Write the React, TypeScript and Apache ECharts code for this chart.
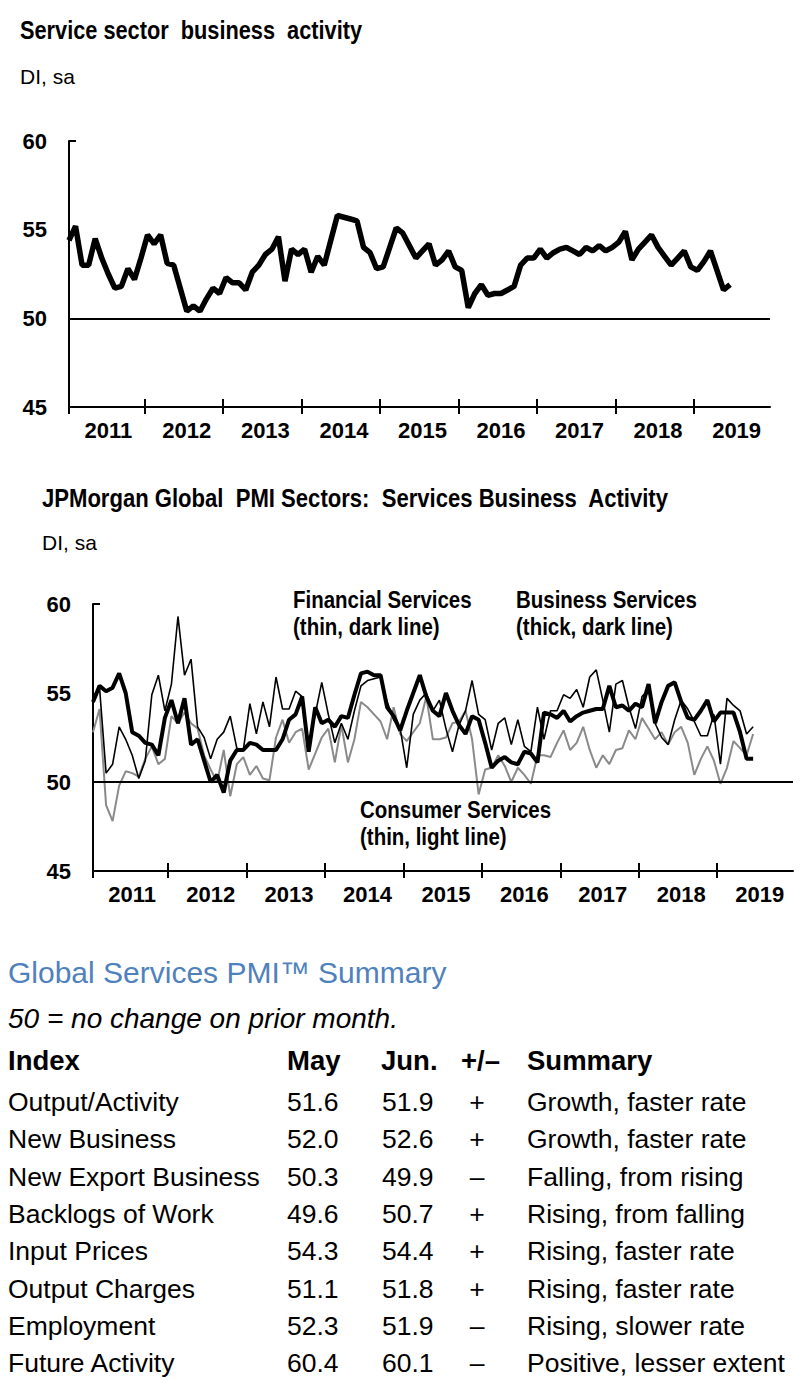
import React, { useEffect, useRef } from 'react';
import * as echarts from 'echarts';

// ---------------- data ----------------
const YEARS = ['2011', '2012', '2013', '2014', '2015', '2016', '2017', '2018', '2019'];
const Y_TICKS = [45, 50, 55, 60];

// Service sector business activity (monthly, Jan 2011 - Jun 2019)
const serviceActivity = [
  54.4, 55.2, 53.0, 53.0, 54.5, 53.4, 52.5, 51.7, 51.8, 52.8,
  52.2, 53.4, 54.7, 54.2, 54.7, 53.1, 53.0, 51.7, 50.4, 50.7,
  50.4, 51.1, 51.7, 51.4, 52.3, 52.0, 52.0, 51.6, 52.6, 53.0,
  53.6, 53.9, 54.6, 52.1, 53.9, 53.6, 53.9, 52.6, 53.5, 53.0,
  54.4, 55.8, 55.7, 55.6, 55.5, 54.0, 53.7, 52.8, 52.9, 54.0,
  55.1, 54.8, 54.1, 53.4, 53.8, 54.2, 53.0, 53.3, 53.8, 52.9,
  52.7, 50.6, 51.4, 51.9, 51.3, 51.4, 51.4, 51.6, 51.8, 53.0,
  53.4, 53.4, 53.9, 53.4, 53.7, 53.9, 54.0, 53.8, 53.6, 54.0,
  53.8, 54.1, 53.8, 54.0, 54.3, 54.9, 53.3, 53.9, 54.3, 54.7,
  54.0, 53.5, 53.0, 53.4, 53.8, 52.9, 52.7, 53.2, 53.8, 52.7,
  51.6, 51.9,
];

const businessServices = [
  54.5, 55.4, 55.1, 55.3, 56.1, 55.0, 52.8, 52.6, 52.2, 52.1,
  51.5, 53.6, 54.6, 53.3, 54.7, 52.1, 52.4, 51.2, 50.0, 50.4,
  49.4, 51.2, 51.8, 51.8, 52.2, 52.1, 51.8, 51.8, 51.8, 52.4,
  53.5, 53.8, 54.8, 51.7, 54.2, 53.3, 53.5, 53.1, 53.7, 53.6,
  54.9, 56.1, 56.2, 56.0, 56.0, 54.2, 53.7, 52.9, 54.0, 55.0,
  56.0, 54.8, 54.0, 53.7, 55.0, 54.0, 53.2, 52.7, 53.7, 53.5,
  52.2, 50.8, 51.2, 51.4, 51.1, 51.0, 51.7, 51.6, 51.1, 53.9,
  53.8, 53.6, 54.0, 53.4, 53.7, 53.9, 54.0, 54.1, 54.1, 55.4,
  54.2, 54.3, 54.0, 54.4, 54.2, 55.5, 53.3, 54.5, 55.4, 55.6,
  54.5, 53.6, 53.5, 54.0, 54.6, 53.4, 53.9, 53.9, 53.9, 52.8,
  51.3, 51.3,
];

const financialServices = [
  54.8, 55.3, 50.5, 51.0, 53.1, 52.4, 51.5, 50.2, 51.2, 54.9,
  56.0, 54.0, 55.5, 59.3, 56.0, 56.9, 53.1, 52.5, 51.3, 52.4,
  52.8, 53.7, 51.9, 51.8, 54.4, 52.7, 54.5, 53.1, 55.9, 54.1,
  54.1, 55.1, 54.8, 52.1, 53.8, 55.6, 53.8, 52.2, 53.3, 52.4,
  54.0, 55.4, 55.7, 55.8, 55.9, 54.5, 53.5, 53.0, 50.8, 53.8,
  54.6, 55.0, 54.0, 54.6, 53.0, 51.7, 53.2, 54.0, 55.7, 53.8,
  53.5, 51.8, 53.3, 53.6, 52.1, 53.5, 52.0, 51.7, 54.2, 52.4,
  54.0, 54.0, 54.9, 54.7, 55.2, 54.2, 55.9, 56.3, 54.6, 52.8,
  55.5, 55.7, 54.2, 53.0, 54.8, 55.2, 53.3, 52.5, 52.1, 53.5,
  54.6, 54.1, 53.4, 52.6, 52.6, 53.8, 51.0, 54.7, 54.3, 54.0,
  52.7, 53.1,
];

const consumerServices = [
  52.8, 54.1, 48.7, 47.8, 49.8, 50.6, 50.5, 50.3, 51.3, 52.0,
  51.0, 51.3, 53.7, 53.3, 53.9, 53.3, 53.0, 51.5, 50.7, 50.0,
  51.8, 49.2, 51.0, 51.4, 50.4, 50.9, 50.2, 50.1, 52.5, 53.5,
  52.2, 52.8, 53.0, 50.7, 51.6, 52.5, 53.0, 51.1, 53.2, 51.1,
  52.4, 54.5, 54.2, 53.8, 53.4, 52.4, 54.2, 52.7, 52.3, 52.8,
  53.3, 54.8, 52.4, 52.4, 52.5, 53.3, 53.4, 54.0, 52.4, 49.3,
  50.7, 50.8, 51.5, 50.9, 50.0, 50.8, 50.4, 49.9, 51.5, 51.5,
  51.4, 52.2, 52.9, 51.8, 52.2, 53.1, 51.8, 50.8, 51.5, 51.0,
  51.8, 51.9, 52.9, 52.4, 53.6, 53.0, 52.4, 52.8, 52.1, 52.8,
  53.1, 52.2, 50.4, 51.3, 52.0, 51.2, 49.9, 50.8, 52.3, 51.9,
  51.5, 52.7,
];

// table
const tableHeader = ['Index', 'May', 'Jun.', '+/–', 'Summary'];
const indexNames = [
  'Output/Activity', 'New Business', 'New Export Business', 'Backlogs of Work',
  'Input Prices', 'Output Charges', 'Employment', 'Future Activity',
];
const mayValues = ['51.6', '52.0', '50.3', '49.6', '54.3', '51.1', '52.3', '60.4'];
const junValues = ['51.9', '52.6', '49.9', '50.7', '54.4', '51.8', '51.9', '60.1'];
const changes = ['+', '+', '–', '+', '+', '+', '–', '–'];
const summaries = [
  'Growth, faster rate', 'Growth, faster rate', 'Falling, from rising', 'Rising, from falling',
  'Rising, faster rate', 'Rising, faster rate', 'Rising, slower rate', 'Positive, lesser extent',
];

// ---------------- helpers ----------------
const NARROW = "'Liberation Sans Narrow', 'Arial Narrow', 'Liberation Sans', Arial, sans-serif";
const SANS = "'Liberation Sans', Arial, sans-serif";

const X_MAX = 107.1;
const TICK_POS = [0, 11.5, 23.5, 35.5, 47.5, 59.5, 71.5, 83.5, 95.5];
const LABEL_POS = YEARS.map((_, k) => 6 + 12 * k);
const yearFmt = (v: number) => YEARS[Math.round((v - 6) / 12)] ?? '';

const pairs = (arr: number[]) => arr.map((v, i) => [i, v]);

function xAxes(gridIndex: number) {
  return [
    {
      type: 'value', gridIndex, min: 0, max: X_MAX, position: 'bottom',
      axisLine: { show: true, lineStyle: { color: '#000', width: 2 } },
      axisTick: { show: true, inside: true, length: 8, customValues: TICK_POS, lineStyle: { color: '#000', width: 2 } },
      axisLabel: {
        show: true, customValues: LABEL_POS, formatter: yearFmt, margin: 12,
        fontFamily: NARROW, fontWeight: 'bold', fontSize: 22, color: '#000',
      },
      splitLine: { show: false },
    },
    {
      type: 'value', gridIndex, min: 0, max: X_MAX, position: 'bottom', offset: 0,
      axisLine: { show: false },
      axisTick: { show: true, inside: false, length: 7, customValues: TICK_POS, lineStyle: { color: '#000', width: 2 } },
      axisLabel: { show: false },
      splitLine: { show: false },
    },
  ];
}

function yAxis(gridIndex: number) {
  return {
    type: 'value', gridIndex, min: 45, max: 60, interval: 5,
    axisLine: { show: true, lineStyle: { color: '#000', width: 2 } },
    axisTick: { show: true, inside: true, length: 7, customValues: [60], lineStyle: { color: '#000', width: 2 } },
    axisLabel: {
      show: true, customValues: Y_TICKS, margin: 22,
      fontFamily: NARROW, fontWeight: 'bold', fontSize: 22, color: '#000',
    },
    splitLine: { show: false },
  };
}

const fiftyLine = {
  silent: true, symbol: 'none', animation: false,
  label: { show: false },
  lineStyle: { color: '#000', width: 2, type: 'solid' },
  data: [{ yAxis: 50 }],
};

function txt(text: string, x: number, y: number, size: number, opts: any = {}) {
  return {
    type: 'text', x, y, silent: true, scaleX: opts.scaleX ?? 1,
    style: {
      text, fontSize: size, fontFamily: opts.family ?? NARROW,
      fontWeight: opts.weight ?? 'normal', fontStyle: opts.style ?? 'normal',
      fill: opts.color ?? '#000', align: opts.align ?? 'left', verticalAlign: 'middle',
    },
  };
}

function buildGraphics() {
  const g: any[] = [];
  g.push(txt('Service sector  business  activity', 20, 30, 25, { weight: 'bold', scaleX: 0.87 }));
  g.push(txt('DI, sa', 20, 76, 21));
  g.push(txt('JPMorgan Global  PMI Sectors:  Services Business  Activity', 42, 499, 25, { weight: 'bold', scaleX: 0.883 }));
  g.push(txt('DI, sa', 42, 542, 21));

  const ann = { weight: 'bold', scaleX: 0.89 };
  g.push(txt('Financial Services', 293, 600, 23, ann));
  g.push(txt('(thin, dark line)', 293, 627, 23, ann));
  g.push(txt('Business Services', 516, 600, 23, ann));
  g.push(txt('(thick, dark line)', 516, 627, 23, ann));
  g.push(txt('Consumer Services', 360, 810, 23, ann));
  g.push(txt('(thin, light line)', 360, 837, 23, ann));

  // table
  g.push(txt('Global Services PMI™ Summary', 8, 972, 30, { family: SANS, color: '#4f81bd' }));
  g.push(txt('50 = no change on prior month.', 8, 1018, 28, { family: SANS, style: 'italic' }));
  const colX = [8, 287, 381, 461, 527];
  tableHeader.forEach((h, k) => g.push(txt(h, colX[k], 1060, 27.5, { family: SANS, weight: 'bold' })));
  indexNames.forEach((name, r) => {
    const y = 1102 + r * 37.3;
    g.push(txt(name, 8, y, 26.5, { family: SANS }));
    g.push(txt(mayValues[r], 287, y, 26.5, { family: SANS }));
    g.push(txt(junValues[r], 382, y, 26.5, { family: SANS }));
    g.push(txt(changes[r], 477, y, 26.5, { family: SANS, align: 'center' }));
    g.push(txt(summaries[r], 527, y, 26.5, { family: SANS }));
  });
  return g;
}

export default function App() {
  const ref = useRef<HTMLDivElement>(null);
  useEffect(() => {
    if (!ref.current) return;
    const chart = echarts.init(ref.current, null, { renderer: 'svg' });
    const option: any = {
      animation: false,
      backgroundColor: '#fff',
      grid: [
        { left: 69, top: 141, width: 701, height: 266, containLabel: false, outerBoundsMode: 'none' },
        { left: 93, top: 604, width: 700, height: 267, containLabel: false, outerBoundsMode: 'none' },
      ],
      xAxis: [...xAxes(0), ...xAxes(1)],
      yAxis: [yAxis(0), yAxis(1)],
      series: [
        {
          name: 'Service sector business activity', type: 'line', xAxisIndex: 0, yAxisIndex: 0,
          data: pairs(serviceActivity), symbol: 'none', z: 3,
          lineStyle: { color: '#000', width: 5.5 }, markLine: fiftyLine,
        },
        {
          name: 'Consumer Services', type: 'line', xAxisIndex: 2, yAxisIndex: 1,
          data: pairs(consumerServices), symbol: 'none', z: 2,
          lineStyle: { color: '#8a8a8a', width: 2 }, markLine: fiftyLine,
        },
        {
          name: 'Financial Services', type: 'line', xAxisIndex: 2, yAxisIndex: 1,
          data: pairs(financialServices), symbol: 'none', z: 3,
          lineStyle: { color: '#000', width: 1.6 },
        },
        {
          name: 'Business Services', type: 'line', xAxisIndex: 2, yAxisIndex: 1,
          data: pairs(businessServices), symbol: 'none', z: 4,
          lineStyle: { color: '#000', width: 4 },
        },
      ],
      graphic: buildGraphics(),
    };
    chart.setOption(option);
    return () => chart.dispose();
  }, []);
  return (
    <div
      ref={ref}
      style={{ position: 'absolute', left: 0, top: 0, width: 808, height: 1390, background: '#fff' }}
    />
  );
}
